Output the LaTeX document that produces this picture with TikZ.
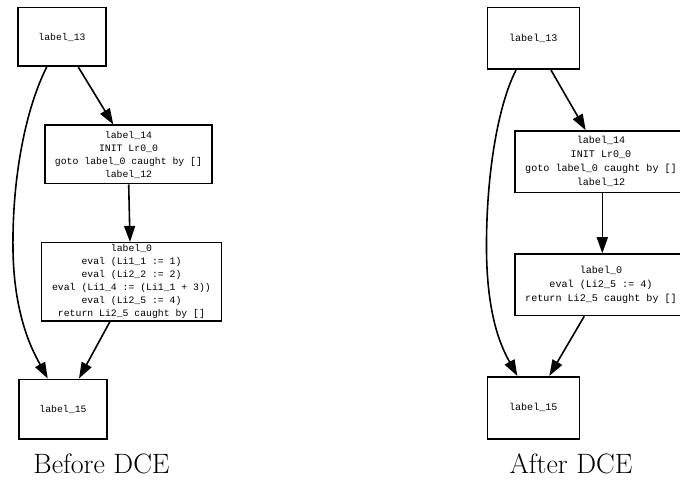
\documentclass[tikz,border=0pt]{standalone}
\usepackage{fontspec}
\setmonofont{Liberation Mono}
\usetikzlibrary{arrows.meta}

\tikzset{
  x=1pt, y=-1pt,
  blk/.style={draw, line width=1.6pt, inner sep=0pt, align=center,
    font=\fontsize{9.8}{13}\selectfont\ttfamily},
  blkr/.style={blk, font=\fontsize{10.1}{14}\selectfont\ttfamily},
  flow/.style={line width=1.6pt, -{Triangle[length=16pt,width=11pt]}},
  caption/.style={anchor=base, font=\fontsize{28}{30}\selectfont}
}

\begin{document}
\begin{tikzpicture}
\useasboundingbox (0,0) rectangle (680,481);
\begin{scope}
\clip (0,0) rectangle (680,481);

% ---- before dead-code elimination ----
\node[blk, minimum width=88pt, minimum height=58.6pt] (L13) at (62,37) {label\_13};
\node[blk, minimum width=167pt, minimum height=58.4pt] (L14) at (128.5,154.5)
  {label\_14\\INIT Lr0\_0\\goto label\_0 caught by []\\label\_12};
\node[blk, minimum width=180pt, minimum height=78pt] (L0) at (131.5,281.7)
  {label\_0\\eval (Li1\_1 := 1)\\eval (Li2\_2 := 2)\\eval (Li1\_4 := (Li1\_1 + 3))\\eval (Li2\_5 := 4)\\return Li2\_5 caught by []};
\node[blk, minimum width=88pt, minimum height=59.4pt] (L15) at (63,409) {label\_15};
\node[caption] (capL) at (101.5,473) {Before DCE};

\draw[flow] ([xshift=16.3pt]L13.south) -- ([xshift=-15.2pt]L14.north);
\draw[flow] ([xshift=-15.3pt]L13.south)
  .. controls (25,110) and (12,180) .. (13,250)
  .. controls (14,320) and (35,355) .. ([xshift=-15.3pt]L15.north);
\draw[flow] ([xshift=0.2pt]L14.south) -- ([xshift=-1.5pt]L0.north);
\draw[flow] ([xshift=-21.5pt]L0.south) -- ([xshift=16pt]L15.north);

% ---- after dead-code elimination ----
\node[blkr, minimum width=92pt, minimum height=61.6pt] (R13) at (533.3,38.5) {label\_13};
\node[blkr, minimum width=172.6pt, minimum height=61.3pt] (R14) at (601,161.7)
  {label\_14\\INIT Lr0\_0\\goto label\_0 caught by []\\label\_12};
\node[blkr, minimum width=172.6pt, minimum height=61.3pt] (R0) at (601,284.7)
  {label\_0\\eval (Li2\_5 := 4)\\return Li2\_5 caught by []};
\node[blkr, minimum width=92pt, minimum height=62pt] (R15) at (533.3,407.7) {label\_15};
\node[caption] (capR) at (571,473) {After DCE};

\draw[flow] ([xshift=17.7pt]R13.south) -- ([xshift=-15.3pt]R14.north);
\draw[flow] ([xshift=-17.3pt]R13.south)
  .. controls (498,105) and (486,175) .. (486.5,250)
  .. controls (487,320) and (503,350) .. ([xshift=-16pt]R15.north);
\draw[flow] ([xshift=1.3pt]R14.south) -- ([xshift=1.3pt]R0.north);
\draw[flow] ([xshift=-16.7pt]R0.south) -- ([xshift=16pt]R15.north);
\end{scope}
\end{tikzpicture}
\end{document}
